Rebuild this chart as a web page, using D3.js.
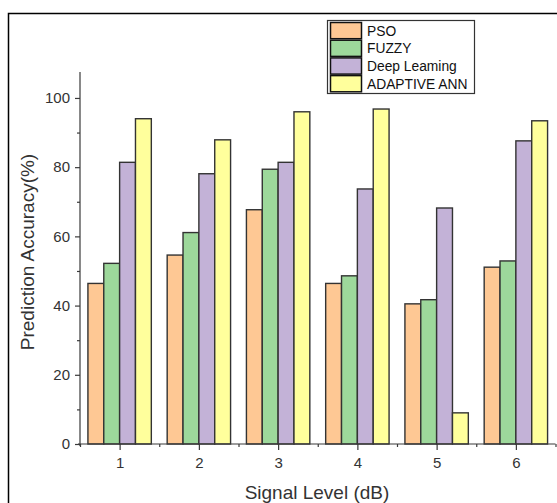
<!DOCTYPE html>
<html><head><meta charset="utf-8">
<script src="https://cdn.jsdelivr.net/npm/d3@7/dist/d3.min.js"></script>
<style>body{margin:0;background:#fff;}svg{display:block;font-family:"Liberation Sans",Arial,sans-serif;}</style>
</head><body><svg id="c" width="557" height="503"></svg>
<script>
const categories = [1, 2, 3, 4, 5, 6];
const seriesNames = ["PSO", "FUZZY", "Deep Leaming", "ADAPTIVE ANN"];
const pso = [46.4, 54.6, 67.7, 46.4, 40.5, 51.1];
const fuzzy = [52.2, 61.1, 79.4, 48.6, 41.7, 52.9];
const deep = [81.4, 78.1, 81.4, 73.7, 68.2, 87.6];
const ann = [94.0, 87.9, 96.0, 96.8, 9.0, 93.4];
const colors = ["#fec894", "#9dd89b", "#c3b2d7", "#ffff9c"];
const yTicks = [0, 20, 40, 60, 80, 100];
const yMinor = [10, 30, 50, 70, 90];
const xMinor = [0.5, 1.5, 2.5, 3.5, 4.5, 5.5, 6.5];

const series = [pso, fuzzy, deep, ann];
const svg = d3.select("#c");
const axisCol = "#3a3a3a";

// frame
svg.append("path").attr("d", "M8.5,503 L8.5,13.5 L557,13.5").attr("fill", "none")
  .attr("stroke", "#000").attr("stroke-width", 1.5);

const x = d3.scaleLinear().domain([0.5, 6.5]).range([80, 555.5]);
const y = d3.scaleLinear().domain([0, 107.5]).range([444, 72]);
const bw = (x(1.2) - x(1));

// bars
series.forEach((s, si) => {
  svg.append("g").selectAll("rect").data(s).join("rect")
    .attr("x", (d, i) => x(categories[i]) + (si - 2) * bw)
    .attr("y", d => y(d))
    .attr("width", bw)
    .attr("height", d => y(0) - y(d))
    .attr("fill", colors[si])
    .attr("stroke", "#333").attr("stroke-width", 1.4);
});

// y axis
const ya = svg.append("g").attr("transform", "translate(80,0)")
  .call(d3.axisLeft(y).tickValues(yTicks).tickSize(5).tickPadding(5).tickFormat(d3.format("d")));
ya.select(".domain").attr("d", `M0,${y(107.5)}V446`);
svg.append("g").attr("transform", "translate(80,0)")
  .call(d3.axisLeft(y).tickValues(yMinor).tickSize(3).tickFormat(""))
  .select(".domain").remove();

// x axis
const xa = svg.append("g").attr("transform", "translate(0,444)")
  .call(d3.axisBottom(x).tickValues(categories).tickSize(6).tickPadding(7).tickFormat(d3.format("d")));
xa.select(".domain").attr("d", `M78,0H555.5`);
svg.append("g").attr("transform", "translate(0,444)")
  .call(d3.axisBottom(x).tickValues(xMinor).tickSize(3).tickFormat(""))
  .select(".domain").remove();

svg.selectAll(".tick line").attr("stroke", axisCol).attr("stroke-width", 1.2);
svg.selectAll(".domain").attr("stroke", axisCol).attr("stroke-width", 1.2);
svg.selectAll(".tick text").attr("fill", "#333").attr("font-size", 15)
  .attr("font-family", "'Liberation Sans', Arial, sans-serif");

// axis labels
svg.append("text").attr("x", 317).attr("y", 499).attr("text-anchor", "middle")
  .attr("font-size", 19).attr("fill", "#333").text("Signal Level (dB)");
svg.append("text").attr("transform", "translate(34,252) rotate(-90)").attr("text-anchor", "middle")
  .attr("font-size", 19).attr("fill", "#333").text("Prediction Accuracy(%)");

// legend
const lg = svg.append("g");
lg.append("rect").attr("x", 327.5).attr("y", 20.5).attr("width", 147).attr("height", 73)
  .attr("fill", "#fff").attr("stroke", "#333").attr("stroke-width", 1.2);
const rowH = 17.7;
seriesNames.forEach((n, i) => {
  lg.append("rect").attr("x", 330.5).attr("y", 22.5 + i * rowH).attr("width", 31).attr("height", rowH - 1.5)
    .attr("fill", colors[i]).attr("stroke", "#111").attr("stroke-width", 1.5);
  lg.append("text").attr("x", 367).attr("y", 22.5 + i * rowH + 13)
    .attr("font-size", 13.8).attr("fill", "#111").text(n);
});
</script></body></html>
